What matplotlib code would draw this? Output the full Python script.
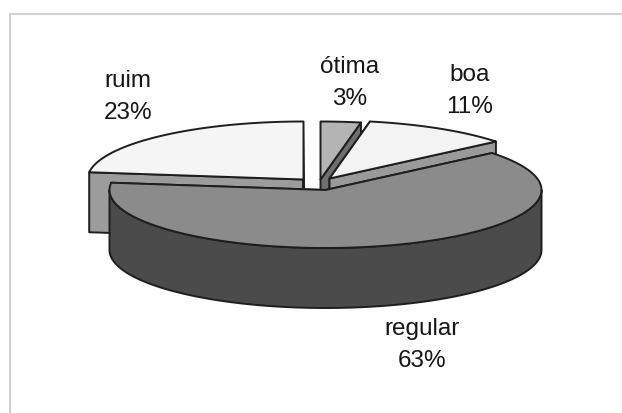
import numpy as np
import matplotlib
matplotlib.use("Agg")
import matplotlib.pyplot as plt
from matplotlib.patches import Polygon

# data (clockwise from 12 o'clock)
categories = ["ótima", "boa", "regular", "ruim"]
values = [3, 11, 63, 23]

# pixel-based layout of the projected pie
RX, RY, DEPTH = 216, 58, 60
centers = {"ótima": (320.5, 180.5), "boa": (329.5, 179.5), "regular": (325.5, 191), "ruim": (303.5, 180.5)}
top_col = {"ótima": "#b4b4b4", "boa": "#f3f3f3", "regular": "#8b8b8b", "ruim": "#f5f5f5"}
face_col = {"ótima": "#6f6f6f", "boa": "#9a9a9a", "regular": "#4b4b4b", "ruim": "#9c9c9c"}
label_pos = {"ótima": (350, 83), "boa": (470, 91), "regular": (422, 345), "ruim": (128, 97)}
EDGE = "#1e1e1e"
LW = 1.4

fig = plt.figure(figsize=(6.22, 4.14), dpi=100, facecolor="#fefefe")
ax = fig.add_axes([0, 0, 1, 1])
ax.set_xlim(0, 622)
ax.set_ylim(414, 0)
ax.axis("off")

ax.plot([10, 10, 622], [414, 15, 15], color="#c8c8c8", lw=1.2)


def rim(c, a0, a1, n=120):
    t = np.radians(np.linspace(a0, a1, n))
    return np.column_stack([c[0] + RX * np.sin(t), c[1] - RY * np.cos(t)])


def poly(pts, col, z):
    ax.add_patch(Polygon(pts, closed=True, facecolor=col, edgecolor=EDGE, lw=LW, joinstyle="round", zorder=z))


edges = np.concatenate([[0], np.cumsum(values)]) / np.sum(values) * 360
spans = {c: (edges[i], edges[i + 1]) for i, c in enumerate(categories)}


def wedge(name, z):
    c = centers[name]
    a0, a1 = spans[name]
    down = np.array([0, DEPTH])
    apex = np.array(c)
    # radial faces
    for a in (a0, a1):
        p = rim(c, a, a, 1)[0]
        poly([apex, p, p + down, apex + down], face_col[name], z)
    # outer wall (front half only)
    lo, hi = max(a0, 90), min(a1, 270)
    if hi > lo:
        arc = rim(c, lo, hi)
        poly(np.vstack([arc, (arc + down)[::-1]]), face_col[name], z)
    # top
    poly(np.vstack([[apex], rim(c, a0, a1)]), top_col[name], z + 0.5)


for i, name in enumerate(["ruim", "ótima", "boa", "regular"]):
    wedge(name, 2 + i)

for cat, val in zip(categories, values):
    x, y = label_pos[cat]
    ax.text(x, y, f"{cat}\n{val}%", ha="center", va="center", fontsize=17.5,
            family="Liberation Sans", color="#161616", linespacing=1.58, zorder=10)

fig.savefig("out.png", dpi=100, facecolor=fig.get_facecolor())
